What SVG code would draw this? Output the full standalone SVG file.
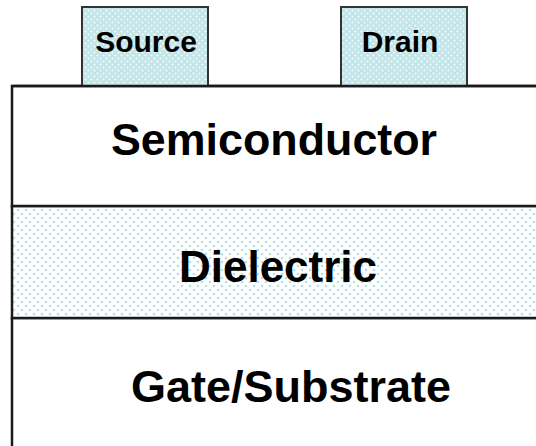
<svg xmlns="http://www.w3.org/2000/svg" width="536" height="446" viewBox="0 0 536 446">
  <defs>
    <pattern id="contactFill" width="6" height="6" patternUnits="userSpaceOnUse">
      <rect width="6" height="6" fill="#c3e5e8"/>
      <circle cx="1.5" cy="1.5" r="1.1" fill="#ffffff" opacity="0.8"/>
      <circle cx="4.5" cy="4.5" r="1.1" fill="#ffffff" opacity="0.8"/>
    </pattern>
    <pattern id="dotFill" width="8" height="8" patternUnits="userSpaceOnUse">
      <rect width="8" height="8" fill="#ffffff"/>
      <circle cx="2" cy="2" r="1.3" fill="#b5e0e5"/>
      <circle cx="6" cy="6" r="1.3" fill="#b5e0e5"/>
    </pattern>
    <style>
      .contact { fill: url(#contactFill); stroke: #333333; stroke-width: 2; }
      .layer { stroke: #1a1a1a; stroke-width: 2.5; }
      .big { font-family: "Liberation Sans", Arial, sans-serif; font-weight: bold; font-size: 44px; fill: #000; text-anchor: middle; }
      .small { font-family: "Liberation Sans", Arial, sans-serif; font-weight: bold; font-size: 30px; fill: #000; text-anchor: middle; }
    </style>
  </defs>
  <rect width="536" height="446" fill="#ffffff"/>

  <g id="gate">
    <rect class="layer" x="12" y="318" width="540" height="140" fill="#ffffff"/>
    <text class="big" x="291" y="402" textLength="320" lengthAdjust="spacingAndGlyphs">Gate/Substrate</text>
  </g>

  <g id="dielectric">
    <rect class="layer" x="12" y="206" width="540" height="112" fill="url(#dotFill)"/>
    <text class="big" x="278" y="282">Dielectric</text>
  </g>

  <g id="semiconductor">
    <rect class="layer" x="12" y="86" width="540" height="120" fill="#ffffff"/>
    <text class="big" x="274" y="155" textLength="326" lengthAdjust="spacingAndGlyphs">Semiconductor</text>
  </g>

  <g id="source">
    <rect class="contact" x="82" y="7" width="126" height="79"/>
    <text class="small" x="146" y="52">Source</text>
  </g>

  <g id="drain">
    <rect class="contact" x="341" y="7" width="126" height="79"/>
    <text class="small" x="400" y="52">Drain</text>
  </g>

  <line class="layer" x1="12" y1="86" x2="536" y2="86"/>
</svg>
